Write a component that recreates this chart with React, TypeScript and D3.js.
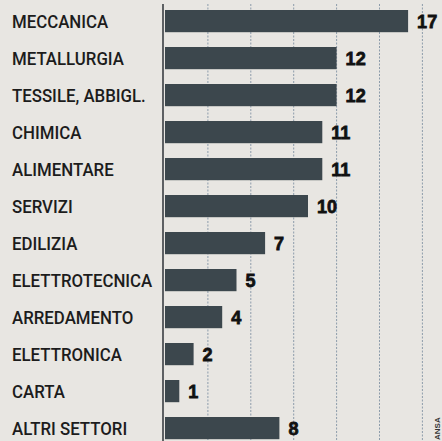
import React from "react";
import * as d3 from "d3";

const categories = [
  "MECCANICA",
  "METALLURGIA",
  "TESSILE, ABBIGL.",
  "CHIMICA",
  "ALIMENTARE",
  "SERVIZI",
  "EDILIZIA",
  "ELETTROTECNICA",
  "ARREDAMENTO",
  "ELETTRONICA",
  "CARTA",
  "ALTRI SETTORI",
];
const values = [17, 12, 12, 11, 11, 10, 7, 5, 4, 2, 1, 8];
const gridTicks = [3, 6, 9, 12, 15, 18];

const W = 442;
const H = 441;

export default function App() {
  const x0 = 165;
  const x = d3.scaleLinear().domain([0, 18]).range([x0, x0 + 18 * 14.3]);
  const y = d3
    .scaleBand<string>()
    .domain(categories)
    .range([2.6, 446.6])
    .paddingInner(0.4)
    .paddingOuter(0.2);

  return (
    <svg
      width={W}
      height={H}
      style={{ position: "absolute", left: 0, top: 0, display: "block" }}
    >
      <rect x={0} y={0} width={W} height={H} fill="#e8e6e2" />
      {gridTicks.map((t) => (
        <line
          key={t}
          x1={x(t)}
          x2={x(t)}
          y1={4}
          y2={H}
          stroke="#8d9cab"
          strokeWidth={1}
          strokeDasharray="2,1.5"
        />
      ))}
      <line x1={163} x2={163} y1={4} y2={H} stroke="#3a3f44" strokeWidth={1.6} />
      {categories.map((c, i) => {
        const yy = y(c)!;
        const bw = y.bandwidth();
        const cy = yy + bw / 2;
        return (
          <g key={c}>
            <text
              transform={`translate(12,${cy + 7}) scale(0.91,1)`}
              fontFamily="Roboto, 'Liberation Sans', sans-serif"
              fontWeight={500}
              fontSize={18.5}
              fill="#1c1c1c"
            >
              {c}
            </text>
            <rect x={x0} y={yy} width={x(values[i]) - x0} height={bw} fill="#3c474d" />
            <text
              transform={`translate(${x(values[i]) + 9},${cy + 7}) scale(0.95,1)`}
              fontFamily="'Liberation Sans', Arial, sans-serif"
              fontWeight="bold"
              fontSize={19}
              fill="#111"
              stroke="#111"
              strokeWidth={0.8}
            >
              {values[i]}
            </text>
          </g>
        );
      })}
      <text
        transform={`translate(440,440) rotate(-90)`}
        fontFamily="'Liberation Sans', Arial, sans-serif"
        fontWeight="bold"
        fontSize={8}
        fill="#333"
      >
        ANSA
      </text>
    </svg>
  );
}
